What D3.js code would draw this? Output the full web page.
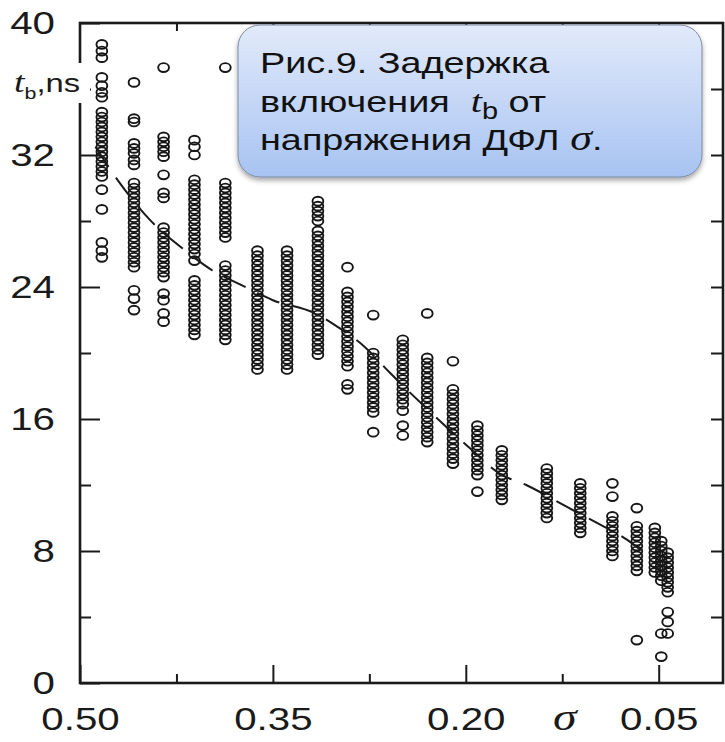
<!DOCTYPE html>
<meta charset="utf-8">
<title>Задержка включения</title>
<style>
  body { margin: 0; background: white; }
  svg { display: block; background: white; font-family: Arial, "Liberation Sans", sans-serif; }
</style>
<body>
<script src="https://d3js.org/d3.v7.min.js"></script>
<script>

// x positions (sigma) of each column of measurements
const colSigma = [0.483, 0.458, 0.435, 0.411, 0.387, 0.362, 0.339, 0.315, 0.292, 0.272, 0.249,
                  0.230, 0.210, 0.191, 0.172, 0.137, 0.111, 0.086, 0.067, 0.053, 0.048, 0.043];

// t_b values (ns) read for each column
const colTimes = [
  [38.7,38.3,37.9,36.7,36.2,35.8,35.5,34.6,34.3,34.0,33.7,33.4,33.1,32.8,32.5,32.2,31.9,31.6,31.3,31.0,30.7,29.9,28.7,26.7,26.2,25.8],
  [36.4,34.2,34.0,32.7,32.4,32.1,31.7,31.4,30.3,30.0,29.7,29.4,29.1,28.8,28.5,28.2,27.9,27.6,27.3,27.0,26.7,26.4,26.1,25.8,25.5,25.2,23.8,23.3,22.6],
  [37.3,33.1,32.8,32.5,32.2,31.9,30.8,29.7,29.4,27.6,27.3,27.0,26.7,26.4,26.1,25.8,25.5,25.2,24.9,24.6,23.6,23.2,22.4,21.9],
  [32.9,32.5,32.0,30.5,30.2,29.9,29.6,29.3,29.0,28.7,28.4,28.1,27.8,27.5,27.2,26.9,26.6,26.3,26.0,25.6,24.4,24.1,23.8,23.5,23.2,22.9,22.6,22.3,22.0,21.7,21.4,21.1],
  [37.3,30.3,30.0,29.7,29.4,29.1,28.8,28.5,28.2,27.9,27.6,27.3,27.0,25.3,25.0,24.7,24.4,24.1,23.8,23.5,23.2,22.9,22.6,22.3,22.0,21.7,21.4,21.1,20.8],
  [26.2,25.9,25.6,25.3,25.0,24.7,24.4,24.1,23.8,23.5,23.2,22.9,22.6,22.3,22.0,21.7,21.4,21.1,20.8,20.5,20.2,19.9,19.6,19.3,19.0],
  [26.2,25.9,25.6,25.3,25.0,24.7,24.4,24.1,23.8,23.5,23.2,22.9,22.6,22.3,22.0,21.7,21.4,21.1,20.8,20.5,20.2,19.9,19.6,19.3,19.0],
  [29.2,28.9,28.6,28.3,28.0,27.4,27.1,26.8,26.5,26.2,25.9,25.6,25.3,25.0,24.7,24.4,24.1,23.8,23.5,23.2,22.9,22.6,22.3,22.0,21.7,21.4,21.1,20.8,20.5,20.2,19.9],
  [25.2,23.7,23.4,23.1,22.8,22.5,22.2,21.9,21.6,21.3,21.0,20.7,20.4,20.1,19.8,19.5,19.2,18.1,17.8],
  [22.3,20.0,19.7,19.4,19.1,18.8,18.5,18.2,17.9,17.6,17.3,17.0,16.7,16.4,15.2],
  [20.8,20.5,20.2,19.9,19.6,19.3,19.0,18.7,18.4,18.1,17.8,17.5,17.2,16.9,16.5,15.6,15.0],
  [22.4,19.7,19.4,19.1,18.8,18.5,18.2,17.9,17.6,17.3,17.0,16.7,16.4,16.1,15.8,15.5,15.2,14.9,14.6],
  [19.5,17.8,17.5,17.2,16.9,16.6,16.3,16.0,15.7,15.4,15.1,14.8,14.5,14.2,13.9,13.6,13.3],
  [15.6,15.3,15.0,14.7,14.4,14.1,13.8,13.5,13.2,12.9,12.6,11.6],
  [14.1,13.8,13.5,13.2,12.9,12.6,12.3,12.0,11.7,11.4,11.1],
  [13.0,12.7,12.4,12.1,11.8,11.5,11.2,10.9,10.6,10.3,10.0],
  [12.1,11.8,11.5,11.2,10.9,10.6,10.3,10.0,9.7,9.4,9.1],
  [12.1,11.3,10.1,9.8,9.5,9.2,8.9,8.6,8.3,8.0,7.7],
  [10.6,9.5,9.2,8.9,8.6,8.3,8.0,7.7,7.4,7.1,6.8,2.6],
  [9.4,9.1,8.8,8.5,8.2,7.9,7.6,7.3,7.0,6.7],
  [8.6,8.3,8.0,7.7,7.4,7.1,6.8,6.5,6.2,3.0,1.6],
  [7.9,7.6,7.3,7.0,6.7,6.4,6.1,5.8,5.5,4.3,3.7,3.0]
];

// dashed trend line
const trendSigma = [0.488, 0.470, 0.446, 0.418, 0.397, 0.374, 0.350, 0.317, 0.300, 0.279, 0.259, 0.230, 0.195, 0.174, 0.153, 0.122, 0.098, 0.075, 0.057];
const trendTime  = [32.5, 30.4, 28.1, 26.2, 25.0, 24.1, 23.2, 22.4, 21.6, 20.4, 18.8, 16.6, 14.1, 12.7, 12.0, 10.7, 9.7, 8.7, 7.6];

// ticks
const yMajor = [0, 8, 16, 24, 32, 40];
const yMinor = [4, 12, 20, 28, 36];
const yRight = [4, 8, 12, 16, 20, 24, 28, 32, 36];
const xMajor = [0.50, 0.35, 0.20, 0.05];
const xMinor = [0.425, 0.275, 0.125];
const xTop   = [0.425, 0.35, 0.275, 0.20, 0.125, 0.05];

const W = 725, H = 742;
const plot = {left: 80, right: 723, top: 23, bottom: 683};
const SX = 1.26; // the picture is stretched sideways, text too

const svg = d3.select("body").append("svg")
  .attr("width", W).attr("height", H);

const x = d3.scaleLinear().domain([0.5, 0]).range([plot.left, plot.right]);
const y = d3.scaleLinear().domain([0, 40]).range([plot.bottom, plot.top]);

const ink = "#1a1a1a";

// stretch tick labels sideways
function stretch(sel) {
  sel.selectAll("text").each(function() {
    const t = d3.select(this);
    t.attr("x", (+t.attr("x") || 0) / SX).attr("transform", "scale(" + SX + ",1)");
  });
}

// left axis
svg.append("g")
  .attr("transform", "translate(" + plot.left + ",0)")
  .call(d3.axisLeft(y).tickValues(yMajor).tickSize(-20).tickSizeOuter(0).tickPadding(25).tickFormat(d3.format("d")))
  .call(g => g.selectAll("text").style("font-size", "32px").attr("fill", ink).style("font-family", "Arial, 'Liberation Sans', sans-serif"))
  .call(stretch);

svg.append("g")
  .attr("transform", "translate(" + plot.left + ",0)")
  .call(d3.axisLeft(y).tickValues(yMinor).tickSize(-11).tickFormat(""))
  .call(g => g.select(".domain").remove());

// right side ticks
svg.append("g")
  .attr("transform", "translate(" + plot.right + ",0)")
  .call(d3.axisRight(y).tickValues(yRight).tickSize(-12).tickFormat(""))
  .call(g => g.select(".domain").remove());

// bottom axis
svg.append("g")
  .attr("transform", "translate(0," + plot.bottom + ")")
  .call(d3.axisBottom(x).tickValues(xMajor).tickSize(-18).tickSizeOuter(0).tickPadding(24).tickFormat(d3.format(".2f")))
  .call(g => g.selectAll("text").style("font-size", "32px").attr("fill", ink).style("font-family", "Arial, 'Liberation Sans', sans-serif"))
  .call(stretch);

svg.append("g")
  .attr("transform", "translate(0," + plot.bottom + ")")
  .call(d3.axisBottom(x).tickValues(xMinor).tickSize(-9).tickFormat(""))
  .call(g => g.select(".domain").remove());

// top ticks
svg.append("g")
  .attr("transform", "translate(0," + plot.top + ")")
  .call(d3.axisTop(x).tickValues(xTop).tickSize(-8).tickFormat(""))
  .call(g => g.select(".domain").remove());

svg.selectAll(".tick line").attr("stroke", ink).attr("stroke-width", 2);

// frame
svg.append("rect")
  .attr("x", plot.left).attr("y", plot.top)
  .attr("width", plot.right - plot.left).attr("height", plot.bottom - plot.top)
  .attr("fill", "none").attr("stroke", ink).attr("stroke-width", 2.6);

// points
const pts = [];
colSigma.forEach((s, i) => colTimes[i].forEach(t => pts.push({s: s, t: t})));

svg.append("g").selectAll("ellipse")
  .data(pts).enter().append("ellipse")
    .attr("cx", d => x(d.s))
    .attr("cy", d => y(d.t))
    .attr("rx", 5.4).attr("ry", 4.4)
    .attr("fill", "none")
    .attr("stroke", "#161616")
    .attr("stroke-width", 1.9);

// trend line
svg.append("path")
  .datum(d3.zip(trendSigma, trendTime))
  .attr("fill", "none")
  .attr("stroke", ink)
  .attr("stroke-width", 2)
  .attr("stroke-dasharray", "24,13")
  .attr("d", d3.line().x(d => x(d[0])).y(d => y(d[1])).curve(d3.curveMonotoneX));

// y axis title t_b,ns (sits on a white patch over the axis)
svg.append("rect").attr("x", 8).attr("y", 63).attr("width", 82).attr("height", 40).attr("fill", "white");
const yt = svg.append("text")
  .attr("transform", "translate(14,92) scale(" + SX + ",1)")
  .attr("fill", ink);
yt.append("tspan").text("t")
  .style("font-family", "'Liberation Serif', 'DejaVu Serif', serif").style("font-style", "italic").style("font-size", "30px");
yt.append("tspan").text("b").attr("dy", 7).style("font-size", "17px");
yt.append("tspan").text(",ns").attr("dy", -7).style("font-size", "26px");

// sigma on x axis
svg.append("text")
  .attr("transform", "translate(553,730) scale(" + SX + ",1)")
  .style("font-family", "'Liberation Serif', 'DejaVu Serif', serif").style("font-style", "italic")
  .style("font-size", "38px").attr("fill", ink)
  .text("σ");

// annotation box
const defs = svg.append("defs");
const grad = defs.append("linearGradient").attr("id", "boxGrad")
  .attr("x1", 0).attr("y1", 0).attr("x2", 0).attr("y2", 1);
grad.append("stop").attr("offset", "0%").attr("stop-color", "#e2eafa");
grad.append("stop").attr("offset", "100%").attr("stop-color", "#a7c3f2");
defs.append("filter").attr("id", "shadow").attr("x", "-10%").attr("y", "-10%").attr("width", "120%").attr("height", "130%")
  .append("feDropShadow").attr("dx", 0).attr("dy", 3).attr("stdDeviation", 2.5)
  .attr("flood-color", "#000").attr("flood-opacity", 0.35);

svg.append("rect")
  .attr("x", 238).attr("y", 25).attr("width", 464).attr("height", 152)
  .attr("rx", 22).attr("ry", 22)
  .attr("fill", "url(#boxGrad)")
  .attr("stroke", "#7b8aa3").attr("stroke-width", 1)
  .attr("filter", "url(#shadow)");

const serif = "'Liberation Serif', 'DejaVu Serif', serif";
const l1 = svg.append("text").attr("transform", "translate(260,73) scale(" + SX + ",1)")
  .style("font-size", "30px").attr("fill", "#111");
l1.text("Рис.9. Задержка");

const l2 = svg.append("text").attr("transform", "translate(260,112) scale(" + SX + ",1)")
  .style("font-size", "30px").attr("fill", "#111").style("white-space", "pre");
l2.append("tspan").text("включения  ");
l2.append("tspan").text("t").style("font-family", serif).style("font-style", "italic").style("font-size", "32px");
l2.append("tspan").text("b").attr("dy", 7).style("font-size", "23px");
l2.append("tspan").text(" от").attr("dy", -7);

const l3 = svg.append("text").attr("transform", "translate(260,150) scale(" + SX + ",1)")
  .style("font-size", "30px").attr("fill", "#111");
l3.append("tspan").text("напряжения ДФЛ ");
l3.append("tspan").text("σ").style("font-family", serif).style("font-style", "italic").style("font-size", "35px");
l3.append("tspan").text(".");

</script>
</body>
